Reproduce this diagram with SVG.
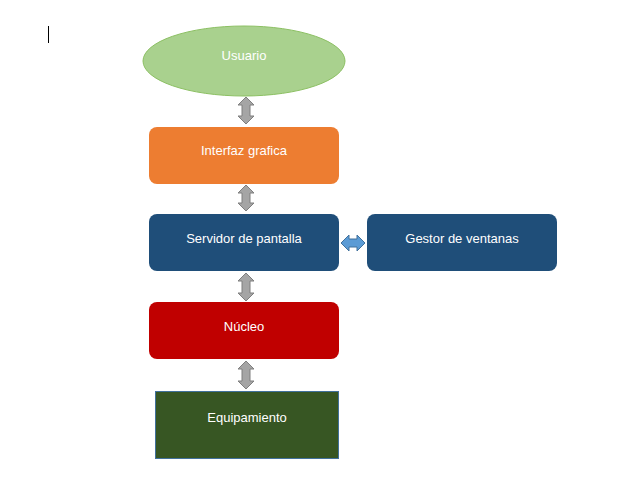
<svg xmlns="http://www.w3.org/2000/svg" width="634" height="496" viewBox="0 0 634 496">
<style>
.lbl{font-family:"Liberation Sans",Arial,sans-serif;font-size:13px;fill:#ffffff;text-anchor:middle}
.garrow{fill:#a5a5a5;stroke:#7f7f7f;stroke-width:1}
.barrow{fill:#5b9bd5;stroke:#41719c;stroke-width:1}
</style>
<rect width="634" height="496" fill="#ffffff"/>
<line x1="48.5" y1="26" x2="48.5" y2="43" stroke="#000000" stroke-width="1"/>
<g id="connectors">
<path class="garrow" d="M246,97 L254,105 L250,105 L250,116 L254,116 L246,124 L238,116 L242,116 L242,105 L238,105 Z"/>
<path class="garrow" d="M246,185 L254,193 L250,193 L250,203 L254,203 L246,211 L238,203 L242,203 L242,193 L238,193 Z"/>
<path class="garrow" d="M246,273 L254,281 L250,281 L250,293 L254,293 L246,301 L238,293 L242,293 L242,281 L238,281 Z"/>
<path class="garrow" d="M246,361 L254,369 L250,369 L250,381 L254,381 L246,389 L238,381 L242,381 L242,369 L238,369 Z"/>
<path class="barrow" d="M341,243 L349,235 L349,239 L357,239 L357,235 L365,243 L357,251 L357,247 L349,247 L349,251 Z"/>
</g>
<g id="usuario">
<ellipse cx="244" cy="61" rx="101" ry="35" fill="#a9d18e" stroke="#8cc063" stroke-width="1"/>
<text class="lbl" x="244" y="60">Usuario</text>
</g>
<g id="interfaz">
<rect x="149" y="127" width="190" height="57" rx="8" fill="#ed7d31"/>
<text class="lbl" x="244" y="155">Interfaz grafica</text>
</g>
<g id="servidor">
<rect x="149" y="214" width="190" height="57" rx="8" fill="#1f4e79"/>
<text class="lbl" x="244" y="243">Servidor de pantalla</text>
</g>
<g id="gestor">
<rect x="367" y="214" width="190" height="57" rx="8" fill="#1f4e79"/>
<text class="lbl" x="462" y="243">Gestor de ventanas</text>
</g>
<g id="nucleo">
<rect x="149" y="302" width="190" height="57" rx="8" fill="#c00000"/>
<text class="lbl" x="244" y="331">Núcleo</text>
</g>
<g id="equipamiento">
<rect x="155.5" y="391.5" width="183" height="67" fill="#375623" stroke="#41719c" stroke-width="1"/>
<text class="lbl" x="247" y="422">Equipamiento</text>
</g>
</svg>
